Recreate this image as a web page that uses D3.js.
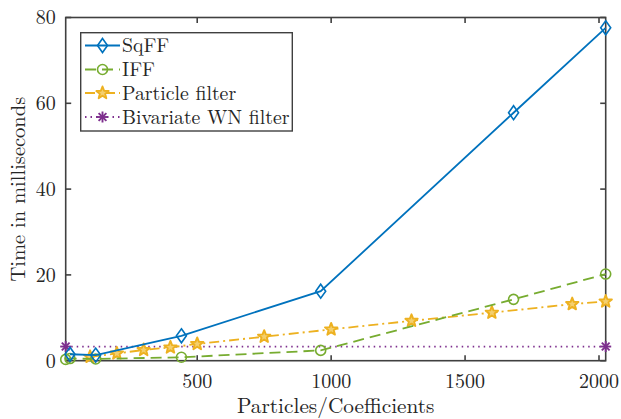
<!DOCTYPE html>
<html><head><meta charset="utf-8">
<script src="https://cdn.jsdelivr.net/npm/d3@7"></script>
<style>body{margin:0;background:#fff;} text{font-family:"Latin Modern Roman","CMU Serif","DejaVu Serif","Liberation Serif",serif;fill:#262626;}</style>
</head><body><svg id="c" width="621" height="419"></svg>
<script>
const xTicks = [500, 1000, 1500, 2000];
const yTicks = [0, 20, 40, 60, 80];
const sqffX = [25, 121, 441, 961, 1681, 2025];
const sqffY = [1.5, 1.3, 5.8, 16.2, 57.8, 77.6];
const iffX = [9, 25, 121, 441, 961, 1681, 2025];
const iffY = [0.3, 0.5, 0.4, 0.8, 2.4, 14.3, 20.2];
const pfX = [100, 200, 300, 400, 500, 750, 1000, 1300, 1600, 1900, 2025];
const pfY = [0.9, 1.7, 2.5, 3.1, 3.9, 5.6, 7.3, 9.3, 11.2, 13.2, 13.8];
const wnX = [9, 2025];
const wnY = [3.3, 3.3];
const names = ["SqFF", "IFF", "Particle filter", "Bivariate WN filter"];

const L = 65.7, R = 605.7, T = 17.5, B = 360.7;
const x = d3.scaleLinear().domain([9, 2025]).range([L, R]);
const y = d3.scaleLinear().domain([0, 80]).range([B, T]);
const svg = d3.select("#c");
const axisColor = "#404040";

const series = [
  {name: names[0], xs: sqffX, ys: sqffY, color: "#0072BD", dash: null, marker: "diamond"},
  {name: names[1], xs: iffX, ys: iffY, color: "#77AC30", dash: "11,6", marker: "circle"},
  {name: names[2], xs: pfX, ys: pfY, color: "#EDB120", dash: "10,4,2,4", marker: "star"},
  {name: names[3], xs: wnX, ys: wnY, color: "#7E2F8E", dash: "1.5,4", marker: "asterisk"}
];

function drawMarker(g, type, cx, cy, color) {
  if (type === "diamond") {
    g.append("path").attr("d", `M${cx},${cy-7}L${cx+5},${cy}L${cx},${cy+7}L${cx-5},${cy}Z`)
      .attr("fill", "none").attr("stroke", color).attr("stroke-width", 1.6);
  } else if (type === "circle") {
    g.append("circle").attr("cx", cx).attr("cy", cy).attr("r", 5)
      .attr("fill", "none").attr("stroke", color).attr("stroke-width", 1.6);
  } else if (type === "star") {
    const pts = [];
    for (let i = 0; i < 10; i++) {
      const r = i % 2 === 0 ? 6.5 : 2.8;
      const a = -Math.PI / 2 + i * Math.PI / 5;
      pts.push([cx + r * Math.cos(a), cy + r * Math.sin(a)]);
    }
    g.append("path").attr("d", "M" + pts.map(p => p.join(",")).join("L") + "Z")
      .attr("fill", "#F4CF6E").attr("stroke", color).attr("stroke-width", 1.9).attr("stroke-linejoin", "round");
  } else if (type === "asterisk") {
    for (let i = 0; i < 4; i++) {
      const a = i * Math.PI / 4;
      const r = 5.5;
      g.append("line").attr("x1", cx - r * Math.cos(a)).attr("y1", cy - r * Math.sin(a))
        .attr("x2", cx + r * Math.cos(a)).attr("y2", cy + r * Math.sin(a))
        .attr("stroke", color).attr("stroke-width", 1.9);
    }
  }
}

// axes box
const ax = svg.append("g");
ax.append("rect").attr("x", L).attr("y", T).attr("width", R - L).attr("height", B - T)
  .attr("fill", "none").attr("stroke", axisColor).attr("stroke-width", 1.6);
xTicks.forEach(t => {
  ax.append("line").attr("x1", x(t)).attr("x2", x(t)).attr("y1", B).attr("y2", B - 5.5).attr("stroke", axisColor).attr("stroke-width", 1.6);
  ax.append("line").attr("x1", x(t)).attr("x2", x(t)).attr("y1", T).attr("y2", T + 5.5).attr("stroke", axisColor).attr("stroke-width", 1.6);
  ax.append("text").attr("x", x(t)).attr("y", B + 27).attr("text-anchor", "middle").attr("font-size", 20).text(t);
});
yTicks.forEach(t => {
  ax.append("line").attr("x1", L).attr("x2", L + 5.5).attr("y1", y(t)).attr("y2", y(t)).attr("stroke", axisColor).attr("stroke-width", 1.6);
  ax.append("line").attr("x1", R).attr("x2", R - 5.5).attr("y1", y(t)).attr("y2", y(t)).attr("stroke", axisColor).attr("stroke-width", 1.6);
  ax.append("text").attr("x", L - 10).attr("y", y(t) + 6.8).attr("text-anchor", "end").attr("font-size", 20).text(t);
});
ax.append("text").attr("x", (L + R) / 2).attr("y", 413).attr("text-anchor", "middle").attr("font-size", 21.3).text("Particles/Coefficients");
ax.append("text").attr("transform", `translate(25,${(T + B) / 2}) rotate(-90)`).attr("text-anchor", "middle").attr("font-size", 20.5).text("Time in milliseconds");

// series
const line = d3.line().x(d => x(d[0])).y(d => y(d[1]));
const sg = svg.append("g");
series.slice().reverse().forEach(s => {
  const data = s.xs.map((v, i) => [v, s.ys[i]]);
  sg.append("path").datum(data).attr("d", line).attr("fill", "none").attr("stroke", s.color)
    .attr("stroke-width", 1.8).attr("stroke-dasharray", s.dash);
  data.forEach(d => drawMarker(sg, s.marker, x(d[0]), y(d[1]), s.color));
});

// legend
const lg = svg.append("g");
lg.append("rect").attr("x", 80.7).attr("y", 32.7).attr("width", 211.6).attr("height", 98.3)
  .attr("fill", "#fff").attr("stroke", axisColor).attr("stroke-width", 1.4);
const rowY = [45.5, 69.5, 93, 117];
series.forEach((s, i) => {
  const yy = rowY[i];
  lg.append("line").attr("x1", 85).attr("x2", 120).attr("y1", yy).attr("y2", yy)
    .attr("stroke", s.color).attr("stroke-width", 1.8).attr("stroke-dasharray", s.dash);
  drawMarker(lg, s.marker, 102.5, yy, s.color);
  lg.append("text").attr("x", 122).attr("y", yy + 6.8).attr("font-size", 19.8).text(s.name);
});
</script></body></html>
